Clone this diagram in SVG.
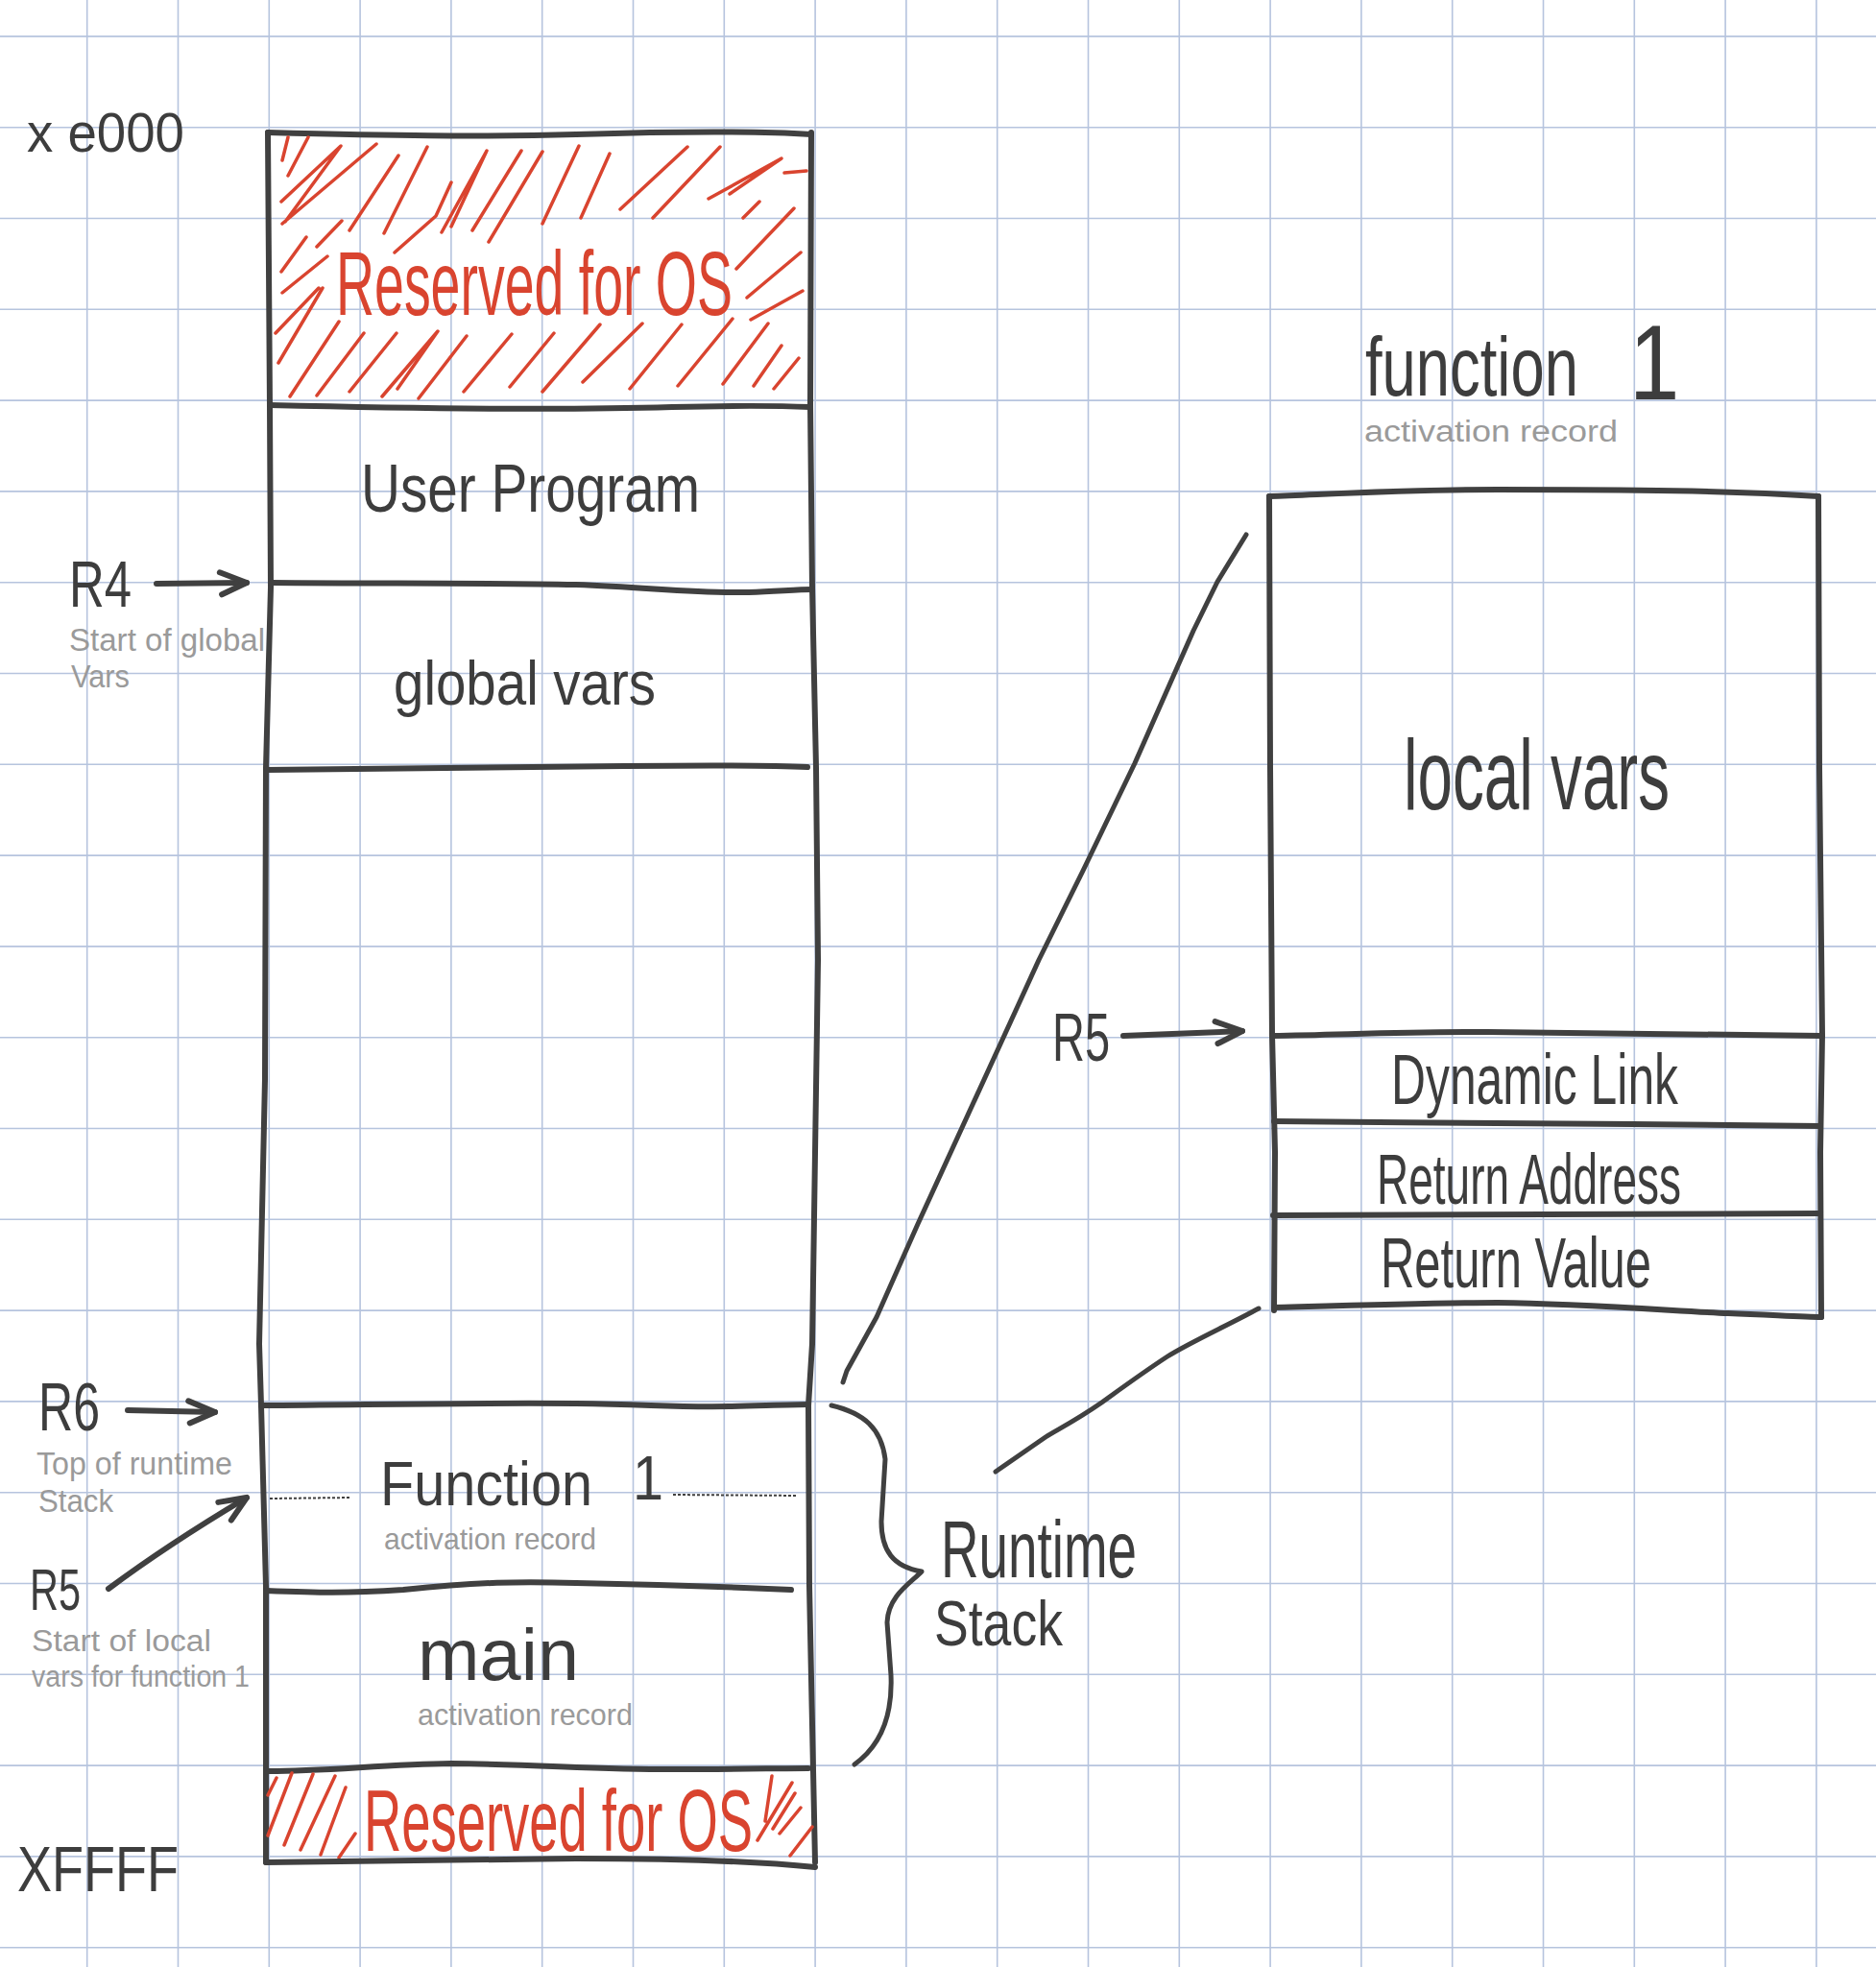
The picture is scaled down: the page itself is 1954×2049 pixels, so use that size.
<svg xmlns="http://www.w3.org/2000/svg" width="1954" height="2049" viewBox="0 0 1954 2049">
<style>
.grid{stroke:#b6c4de;stroke-width:1.6;fill:none}
.ink{stroke:#404040;stroke-width:6;fill:none;stroke-linecap:round;stroke-linejoin:round}
.thin{stroke:#404040;stroke-width:5;fill:none;stroke-linecap:round;stroke-linejoin:round}
.hatch{stroke:#d9442f;stroke-width:3.5;fill:none;stroke-linecap:round;stroke-linejoin:round}
.dots{stroke:#404040;stroke-width:2;stroke-dasharray:3 2;fill:none}
text{font-family:"Liberation Sans Narrow","Liberation Sans",Arial,sans-serif;}
.t{fill:#3d3d3d}
.red{fill:#d9442f}
.note{fill:#9a9a9a}
</style>
<defs>
<marker id="head" viewBox="-32 -16 36 32" refX="0" refY="0" markerWidth="36" markerHeight="32" markerUnits="userSpaceOnUse" orient="auto">
<path d="M-28,-11 L0,0 L-26,12" fill="none" stroke="#404040" stroke-width="6" stroke-linecap="round" stroke-linejoin="round"/>
</marker>
</defs>
<rect width="1954" height="2049" fill="#ffffff"/>
<g id="grid" class="grid">
<path d="M90.7,0V2049M185.5,0V2049M280.3,0V2049M375.1,0V2049M469.9,0V2049M564.7,0V2049M659.5,0V2049M754.3,0V2049M849.1,0V2049M943.9,0V2049M1038.7,0V2049M1133.5,0V2049M1228.3,0V2049M1323.1,0V2049M1417.9,0V2049M1512.7,0V2049M1607.5,0V2049M1702.3,0V2049M1797.1,0V2049M1891.9,0V2049"/>
<path d="M0,37.9H1954M0,132.7H1954M0,227.5H1954M0,322.3H1954M0,417.1H1954M0,511.9H1954M0,606.7H1954M0,701.5H1954M0,796.3H1954M0,891.1H1954M0,985.9H1954M0,1080.7H1954M0,1175.5H1954M0,1270.3H1954M0,1365.1H1954M0,1459.9H1954M0,1554.7H1954M0,1649.5H1954M0,1744.3H1954M0,1839.1H1954M0,1933.9H1954M0,2028.7H1954"/>
</g>

<g id="address-labels">
<text class="t" x="28" y="158" font-size="58" textLength="164" lengthAdjust="spacingAndGlyphs">x e000</text>
<text class="t" x="18" y="1970" font-size="66" textLength="168" lengthAdjust="spacingAndGlyphs">XFFFF</text>
</g>

<g id="memory-column">
<path class="ink" d="M279,138 L281,422 L282,612 L277,800 L276,1124 L270,1400 L272,1464 L277,1652 L277,1940"/>
<path class="ink" d="M845,138 L844,422 L846,612 L850,800 L852,1000 L846,1400 L842,1464 L843,1652 L849,1940"/>
<path class="ink" d="M279,138 C400,141 500,143 600,140 C700,137 780,136 845,140"/>
</g>

<g id="reserved-top">
<path class="hatch" d="M294,167L300,143M300,183L321,143M293,210L355,152L297,231M294,233L392,150M330,257L356,230M364,240L415,162M400,243L445,153M411,263L454,225L470,190M460,242L507,157L470,236M492,240L543,157M509,252L565,158M565,233L603,152M605,227L635,160M646,218L716,153M680,227L750,153M738,207L814,165L760,202M293,283L319,247M294,305L341,267M287,347L332,300M290,378L336,300M767,280L827,217M778,310L834,263M782,333L836,303M774,227L791,210M817,180L840,178M302,413L353,335M330,412L379,347M364,408L413,347M398,413L456,345L414,405M436,415L486,350M483,408L533,348M531,403L577,347M565,408L625,338M607,398L669,337M656,405L710,338M706,402L763,332M753,400L800,337M785,402L814,360M806,405L832,373"/>
<text class="red" x="350" y="328" font-size="95" textLength="413" lengthAdjust="spacingAndGlyphs">Reserved for OS</text>
<path class="ink" d="M281,422 C450,426 600,427 700,424 C780,422 820,423 844,424"/>
</g>

<g id="user-program">
<text class="t" x="376" y="533" font-size="70" textLength="353" lengthAdjust="spacingAndGlyphs">User Program</text>
<path class="ink" d="M282,607 C400,608 500,607 600,609 C680,612 720,618 780,617 C810,616 830,614 846,614"/>
</g>

<g id="r4-label">
<text class="t" x="72" y="632" font-size="68" textLength="65" lengthAdjust="spacingAndGlyphs">R4</text>
<text class="note" x="72" y="678" font-size="34" textLength="204" lengthAdjust="spacingAndGlyphs">Start of global</text>
<text class="note" x="74" y="716" font-size="34" textLength="61" lengthAdjust="spacingAndGlyphs">Vars</text>
</g>

<g id="global-vars">
<text class="t" x="410" y="734" font-size="64" textLength="273" lengthAdjust="spacingAndGlyphs">global vars</text>
<path class="ink" d="M277,802 C450,801 560,800 650,798 C740,797 800,797 841,799"/>
</g>

<g id="function1-record">
<path class="ink" d="M272,1464 C400,1463 500,1461 600,1462 C680,1463 700,1466 760,1465 C800,1464 825,1463 842,1463"/>
<path class="dots" d="M281,1561 L365,1560 M701,1557 L831,1558"/>
<text class="t" x="396" y="1568" font-size="64">
<tspan x="396" textLength="221" lengthAdjust="spacingAndGlyphs">Function</tspan><tspan x="659" y="1562" textLength="32" lengthAdjust="spacingAndGlyphs">1</tspan>
</text>
<text class="note" x="400" y="1614" font-size="32" textLength="221" lengthAdjust="spacingAndGlyphs">activation record</text>
<path class="ink" d="M277,1657 C330,1659 360,1660 420,1656 C500,1648 540,1647 600,1649 C700,1651 780,1654 824,1656"/>
</g>

<g id="main-record">
<text class="t" x="435" y="1750" font-size="76" textLength="168" lengthAdjust="spacingAndGlyphs">main</text>
<text class="note" x="435" y="1797" font-size="32" textLength="224" lengthAdjust="spacingAndGlyphs">activation record</text>
<path class="ink" d="M280,1845 C340,1845 400,1838 470,1837 C560,1838 620,1843 700,1843 C770,1843 810,1842 842,1842"/>
</g>

<g id="reserved-bottom">
<path class="hatch" d="M279,1912L304,1847M296,1922L326,1848M313,1927L349,1850M334,1932L360,1862M353,1935L370,1910M279,1870L288,1852M789,1917L825,1857M797,1897L804,1850M812,1910L834,1883M823,1933L846,1903M805,1905L828,1868"/>
<text class="red" x="379" y="1928" font-size="90" textLength="405" lengthAdjust="spacingAndGlyphs">Reserved for OS</text>
<path class="ink" d="M277,1940 C400,1939 500,1937 600,1936 C700,1936 780,1938 849,1945"/>
</g>

<g id="r6-label">
<text class="t" x="40" y="1490" font-size="70" textLength="64" lengthAdjust="spacingAndGlyphs">R6</text>
<text class="note" x="38" y="1536" font-size="33" textLength="204" lengthAdjust="spacingAndGlyphs">Top of runtime</text>
<text class="note" x="40" y="1575" font-size="33" textLength="78" lengthAdjust="spacingAndGlyphs">Stack</text>
</g>

<g id="r5-label-left">
<text class="t" x="31" y="1677" font-size="62" textLength="53" lengthAdjust="spacingAndGlyphs">R5</text>
<text class="note" x="33" y="1720" font-size="31" textLength="187" lengthAdjust="spacingAndGlyphs">Start of local</text>
<text class="note" x="33" y="1757" font-size="31" textLength="227" lengthAdjust="spacingAndGlyphs">vars for function 1</text>
</g>

<g id="runtime-stack-label">
<text class="t" x="980" y="1643" font-size="84" textLength="204" lengthAdjust="spacingAndGlyphs">Runtime</text>
<text class="t" x="973" y="1714" font-size="66" textLength="134" lengthAdjust="spacingAndGlyphs">Stack</text>
</g>

<g id="function1-detail">
<text class="t" transform="matrix(0.72 0 0 1 1422 412)" x="0" y="0" font-size="88">function</text>
<text class="t" transform="matrix(0.84 0 0 1 1697 416)" x="0" y="0" font-size="112">1</text>
<text class="note" x="1421" y="460" font-size="31" textLength="264" lengthAdjust="spacingAndGlyphs">activation record</text>
<path class="ink" d="M1322,517 C1400,514 1470,510 1560,510 C1700,510 1800,511 1894,517"/>
<path class="ink" d="M1322,517 L1323,800 L1325,1078 L1328,1200 L1327,1365"/>
<path class="ink" d="M1894,517 L1895,800 L1898,1078 L1896,1200 L1897,1372"/>
</g>

<g id="local-vars">
<text class="t" x="1462" y="843" font-size="104" textLength="277" lengthAdjust="spacingAndGlyphs">local vars</text>
<path class="ink" d="M1325,1079 C1400,1078 1450,1075 1550,1075 C1700,1076 1800,1078 1898,1079"/>
</g>

<g id="dynamic-link">
<text class="t" x="1449" y="1150" font-size="74" textLength="299" lengthAdjust="spacingAndGlyphs">Dynamic Link</text>
<path class="ink" d="M1327,1168 C1450,1169 1600,1171 1700,1171 C1800,1172 1850,1173 1896,1173"/>
</g>

<g id="return-address">
<text class="t" x="1434" y="1254" font-size="74" textLength="317" lengthAdjust="spacingAndGlyphs">Return Address</text>
<path class="ink" d="M1326,1266 C1450,1266 1650,1265 1896,1264"/>
</g>

<g id="return-value">
<text class="t" x="1438" y="1341" font-size="74" textLength="282" lengthAdjust="spacingAndGlyphs">Return Value</text>
<path class="ink" d="M1327,1362 C1400,1360 1500,1357 1560,1357 C1650,1358 1750,1366 1800,1368 C1850,1370 1880,1372 1897,1372"/>
</g>

<g id="r5-label-right">
<text class="t" x="1096" y="1105" font-size="70" textLength="60" lengthAdjust="spacingAndGlyphs">R5</text>
</g>

<g id="connectors">
<path class="ink" marker-end="url(#head)" d="M163,608 L257,607"/>
<path class="ink" marker-end="url(#head)" d="M133,1469 L224,1471"/>
<path class="ink" marker-end="url(#head)" d="M113,1655 C160,1620 210,1588 257,1560"/>
<path class="ink" marker-end="url(#head)" d="M1170,1079 L1294,1074"/>
<path class="thin" d="M1298,557 L1268,606 L1243,657 L1182,795 L1128,907 L1082,1000 L1061,1046 L956,1275 L913,1372 L882,1428 L878,1440"/>
<path class="thin" d="M1311,1363 C1280,1380 1240,1398 1216,1413 C1190,1430 1160,1452 1146,1462 C1120,1480 1100,1490 1089,1497 C1070,1510 1050,1524 1037,1533"/>
<path class="thin" d="M866,1464 C900,1472 918,1488 922,1520 L918,1585 C918,1615 930,1632 960,1637 C950,1648 925,1662 924,1690 L928,1745 C930,1790 915,1820 890,1838"/>
</g>
</svg>
